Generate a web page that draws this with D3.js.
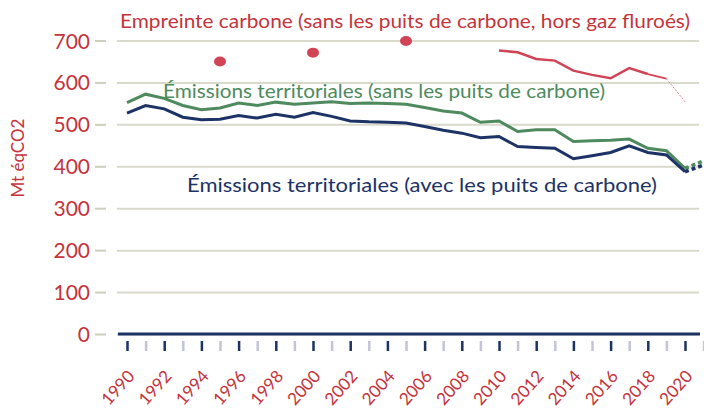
<html>
<script src='https://d3js.org/d3.v7.min.js'></script>
<style>
body {margin:0; background:#fff;}
text {font-family: Lato, 'Noto Sans', sans-serif;}
</style>
<body onload='init()'>
<svg width=704 height=415></svg>
<script>
// data (Mt eqCO2)
var years = d3.range(1990, 2022);
var sansPuits = [552,572,562,545,535,539,551,545,553,548,551,554,550,551,550,548,540,532,527,505,508,483,487,487,459,461,462,465,443,437,395,413];
var avecPuits = [527,545,537,517,511,512,521,515,524,517,528,519,508,506,505,503,495,486,479,468,471,447,445,443,418,425,433,449,433,427,387,403];
var empreinteYears = [2010,2011,2012,2013,2014,2015,2016,2017,2018,2019,2020];
var empreinte = [676,672,656,652,628,618,610,634,620,609,554];
var empreinteDotYears = [1995,2000,2005];
var empreinteDots = [650,671,699];
var yTicks = [0,100,200,300,400,500,600,700];
var xLabelYears = d3.range(1990, 2021, 2);

function init() {
var svg = d3.select("svg");
var red = "#c4343c", green = "#4e8a5e", navy = "#1d3265";

var x = d3.scaleLinear().domain([1990, 2021]).range([127, 703.6]);
var y = d3.scaleLinear().domain([0, 700]).range([334, 40.5]);

// grid lines
var grid = svg.append("g").attr("transform", "translate(117,0)")
  .call(d3.axisLeft(y).tickValues(yTicks).tickSize(-582).tickFormat(""));
grid.select(".domain").remove();
grid.selectAll("line").attr("stroke", "#d9d9cc").attr("stroke-width", 2);

// y axis
var yAxis = svg.append("g").attr("transform", "translate(106,0)")
  .call(d3.axisLeft(y).tickValues(yTicks).tickSize(11).tickPadding(5));
yAxis.select(".domain").remove();
yAxis.selectAll("line").attr("stroke", "#ccd0bc").attr("stroke-width", 2);
yAxis.selectAll("text").attr("fill", red).attr("font-size", 21).attr("dy", "0.36em");

svg.append("text").attr("transform", "translate(24,158) rotate(-90)")
  .attr("text-anchor", "middle").attr("fill", red).attr("font-size", 17)
  .text("Mt éqCO2");

// zero line
svg.append("line").attr("x1", 118).attr("x2", 700)
  .attr("y1", y(0)).attr("y2", y(0))
  .attr("stroke", navy).attr("stroke-width", 3);

// x axis ticks and labels
var xAxis = svg.append("g").attr("transform", "translate(0,341)")
  .call(d3.axisBottom(x).tickValues(years).tickSize(10)
    .tickFormat(function(d) { return d % 2 == 0 && d <= 2020 ? d : ""; }));
xAxis.select(".domain").remove();
xAxis.selectAll("line").attr("stroke-width", 2.5)
  .attr("stroke", function(d) { return d % 2 == 0 ? navy : "#c3c3da"; });
xAxis.selectAll("text").attr("fill", red).attr("font-size", 17)
  .attr("y", 0).attr("dy", 0).attr("text-anchor", "end")
  .attr("transform", "translate(8,36) rotate(-48)");

var line = d3.line().x(function(d) { return x(d[0]); }).y(function(d) { return y(d[1]); });
function pairs(xs, vs) { return xs.map(function(v, i) { return [v, vs[i]]; }); }

var g = pairs(years, sansPuits), n = pairs(years, avecPuits);
svg.append("path").attr("d", line(g.slice(0, 31))).attr("fill", "none").attr("stroke", green).attr("stroke-width", 3);
svg.append("path").attr("d", line(g.slice(30))).attr("fill", "none").attr("stroke", green).attr("stroke-width", 3.5).attr("stroke-dasharray", "4,3");
svg.append("path").attr("d", line(n.slice(0, 31))).attr("fill", "none").attr("stroke", navy).attr("stroke-width", 3);
svg.append("path").attr("d", line(n.slice(30))).attr("fill", "none").attr("stroke", navy).attr("stroke-width", 3.5).attr("stroke-dasharray", "4,3");

var e = pairs(empreinteYears, empreinte);
svg.append("path").attr("d", line(e.slice(0, 9))).attr("fill", "none").attr("stroke", "#d04456").attr("stroke-width", 2.5);
svg.append("path").attr("d", line(e.slice(8, 10))).attr("fill", "none").attr("stroke", "#d04456").attr("stroke-width", 1.8);
svg.append("path").attr("d", line(e.slice(9))).attr("fill", "none").attr("stroke", "#e07a86").attr("stroke-width", 1).attr("stroke-dasharray", "2,1.5");

svg.selectAll(".dot").data(pairs(empreinteDotYears, empreinteDots)).enter()
  .append("ellipse").attr("class", "dot")
  .attr("cx", function(d) { return x(d[0]); }).attr("cy", function(d) { return y(d[1]); })
  .attr("rx", 6).attr("ry", 5).attr("fill", "#d04456");

// series labels
svg.append("text").attr("x", 120).attr("y", 28).attr("fill", red).attr("font-size", 19)
  .attr("textLength", 570).attr("lengthAdjust", "spacingAndGlyphs")
  .text("Empreinte carbone (sans les puits de carbone, hors gaz fluroés)");
svg.append("text").attr("x", 163).attr("y", 98).attr("fill", green).attr("font-size", 19)
  .attr("textLength", 442).attr("lengthAdjust", "spacingAndGlyphs")
  .text("Émissions territoriales (sans les puits de carbone)");
svg.append("text").attr("x", 187).attr("y", 192).attr("fill", navy).attr("font-size", 19)
  .attr("textLength", 470).attr("lengthAdjust", "spacingAndGlyphs")
  .text("Émissions territoriales (avec les puits de carbone)");
}
</script>
</body>
</html>
